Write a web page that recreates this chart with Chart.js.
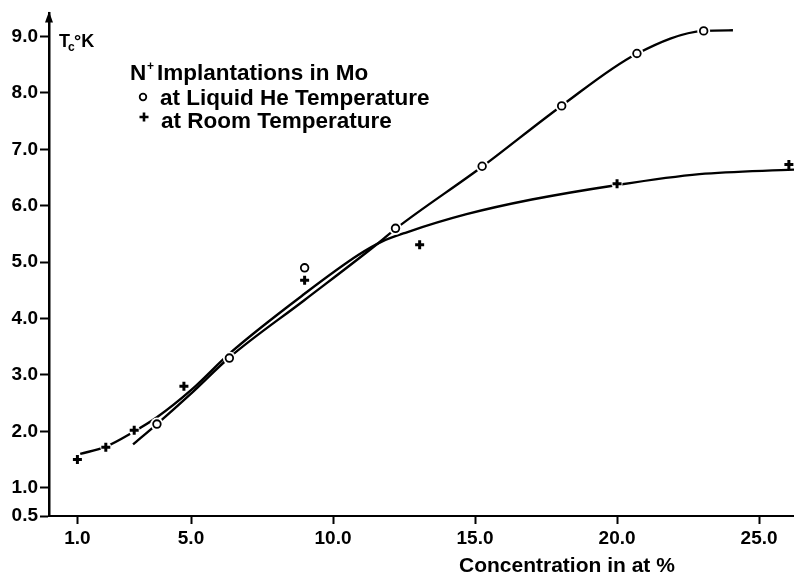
<!DOCTYPE html>
<html>
<head>
<meta charset="utf-8">
<title>Tc of N+ implanted Mo</title>
<script src="https://cdn.jsdelivr.net/npm/chart.js@4.4.1/dist/chart.umd.min.js"></script>
<style>
  html, body { margin: 0; padding: 0; background: #fff; }
  #tcChart { display: block; }
</style>
</head>
<body>
<canvas id="tcChart" width="794" height="574"></canvas>
<script>
'use strict';

// #region ***  Data                                      ***********
// measured points: concentration in at % / Tc in K
const heConc = [3.8, 6.35, 9.0, 12.2, 15.25, 18.05, 20.7, 23.05];
const heTc = [2.13, 3.3, 4.9, 5.6, 6.7, 7.77, 8.7, 9.1];
const roomConc = [1.0, 2.0, 3.0, 4.75, 9.0, 13.05, 20.0, 26.05];
const roomTc = [1.5, 1.72, 2.02, 2.8, 4.68, 5.31, 6.39, 6.73];

// hand drawn curves through the points
const heCurveConc = [2.96, 3.8, 5.0, 6.35, 9.0, 11.6, 12.2, 15.27, 18.04, 20.68, 23.07, 24.08];
const heCurveTc = [1.77, 2.13, 2.67, 3.31, 4.33, 5.34, 5.59, 6.7, 7.77, 8.69, 9.1, 9.11];
const roomCurveConc = [1.1, 2.0, 2.9, 3.8, 5.0, 6.4, 9.0, 10.9, 11.7, 12.6, 14.7, 17.0, 19.9, 22.9, 26.23];
const roomCurveTc = [1.6, 1.73, 1.97, 2.25, 2.73, 3.4, 4.44, 5.13, 5.36, 5.53, 5.85, 6.11, 6.36, 6.56, 6.64];

const xTicks = [1, 5, 10, 15, 20, 25];
const yTicks = [0.5, 1, 2, 3, 4, 5, 6, 7, 8, 9];
// #endregion

const fontFamily = '"Liberation Sans", Arial, sans-serif';

const pointsOf = function (xs, ys) {
  return xs.map((x, i) => ({ x: x, y: ys[i] }));
};

// #region ***  Plugin - axis title, arrow and key        ***********
const annotations = {
  id: 'annotations',
  afterDraw: function (chart) {
    const ctx = chart.ctx;
    const area = chart.chartArea;
    ctx.save();
    ctx.fillStyle = '#000';
    ctx.strokeStyle = '#000';

    // arrow head on the Tc axis
    ctx.beginPath();
    ctx.moveTo(area.left, area.top - 2);
    ctx.lineTo(area.left - 4, area.top + 9);
    ctx.lineTo(area.left + 4, area.top + 9);
    ctx.closePath();
    ctx.fill();

    ctx.textBaseline = 'alphabetic';
    ctx.textAlign = 'left';

    // Tc °K
    ctx.font = `bold 18px ${fontFamily}`;
    ctx.fillText('T', 59, 47);
    ctx.font = `bold 12px ${fontFamily}`;
    ctx.fillText('c', 68, 51);
    ctx.font = `bold 18px ${fontFamily}`;
    ctx.fillText('°K', 74, 47);

    // key
    ctx.font = `bold 22.5px ${fontFamily}`;
    ctx.fillText('N', 130, 80);
    ctx.font = `bold 12px ${fontFamily}`;
    ctx.fillText('+', 147, 70);
    ctx.font = `bold 22.5px ${fontFamily}`;
    ctx.fillText('Implantations in Mo', 157, 80);
    ctx.fillText('at Liquid He Temperature', 160, 105);
    ctx.fillText('at Room Temperature', 161, 128);

    ctx.lineWidth = 1.8;
    ctx.beginPath();
    ctx.arc(143, 97, 3.3, 0, Math.PI * 2);
    ctx.stroke();
    ctx.lineWidth = 2.6;
    ctx.beginPath();
    ctx.moveTo(139.5, 117);
    ctx.lineTo(148.5, 117);
    ctx.moveTo(144, 112.5);
    ctx.lineTo(144, 121.5);
    ctx.stroke();

    // x axis title
    ctx.font = `bold 21px ${fontFamily}`;
    ctx.fillText('Concentration in at %', 459, 572);
    ctx.restore();
  }
};
// #endregion

// #region ***  Chart                                      ***********
const drawChart = function () {
  const markerDefaults = { showLine: false, pointHoverRadius: 0 };
  const curveDefaults = {
    borderColor: '#000',
    borderWidth: 2.4,
    pointRadius: 0,
    pointHoverRadius: 0,
    cubicInterpolationMode: 'monotone',
    fill: false
  };

  const data = {
    datasets: [
      Object.assign({
        label: 'at Liquid He Temperature',
        data: pointsOf(heConc, heTc),
        pointStyle: 'circle',
        pointRadius: 3.8,
        pointBackgroundColor: '#fff',
        pointBorderColor: '#000',
        pointBorderWidth: 1.8,
        order: 0
      }, markerDefaults),
      Object.assign({
        label: 'at Room Temperature',
        data: pointsOf(roomConc, roomTc),
        pointStyle: 'cross',
        pointRadius: 4.5,
        pointBorderColor: '#000',
        pointBorderWidth: 3,
        order: 0
      }, markerDefaults),
      // white gaps where the curves run into a marker
      Object.assign({
        data: pointsOf(heConc, heTc),
        pointRadius: 6.5,
        pointBackgroundColor: '#fff',
        pointBorderWidth: 0,
        order: 1
      }, markerDefaults),
      Object.assign({
        data: pointsOf(roomConc, roomTc),
        pointRadius: [5.5, 5.5, 5.5, 5.5, 5.5, 5.5, 5.5, 0],
        pointBackgroundColor: '#fff',
        pointBorderWidth: 0,
        order: 1
      }, markerDefaults),
      Object.assign({ data: pointsOf(heCurveConc, heCurveTc), order: 2 }, curveDefaults),
      Object.assign({ data: pointsOf(roomCurveConc, roomCurveTc), order: 2 }, curveDefaults)
    ]
  };

  const tickFont = { family: fontFamily, size: 19, weight: 'bold' };

  const config = {
    type: 'line',
    data: data,
    options: {
      responsive: false,
      animation: false,
      events: [],
      layout: { autoPadding: false, padding: { top: 12, right: 0, bottom: 0, left: 0 } },
      plugins: { legend: { display: false }, tooltip: { enabled: false } },
      scales: {
        x: {
          type: 'linear',
          min: 0,
          max: 26.23,
          afterBuildTicks: scale => { scale.ticks = xTicks.map(v => ({ value: v })); },
          afterFit: scale => { scale.height = 58; },
          grid: { drawOnChartArea: false, drawTicks: true, tickLength: 8, tickWidth: 2, color: '#000' },
          border: { display: true, color: '#000', width: 2 },
          ticks: {
            color: '#000',
            font: tickFont,
            padding: 3,
            maxRotation: 0,
            autoSkip: false,
            callback: v => v.toFixed(1)
          }
        },
        y: {
          type: 'linear',
          min: 0.5,
          max: 9.41,
          afterBuildTicks: scale => { scale.ticks = yTicks.map(v => ({ value: v })); },
          afterFit: scale => { scale.width = 49; },
          grid: { drawOnChartArea: false, drawTicks: true, tickLength: 9, tickWidth: 2, color: '#000' },
          border: { display: true, color: '#000', width: 2.5 },
          ticks: {
            color: '#000',
            font: tickFont,
            padding: 2,
            autoSkip: false,
            callback: v => v.toFixed(1)
          }
        }
      }
    },
    plugins: [annotations]
  };

  const ctx = document.getElementById('tcChart').getContext('2d');
  new Chart(ctx, config);
};
// #endregion

// #region ***  Init / DOMContentLoaded                  ***********
const init = function () {
  drawChart();
};

document.addEventListener('DOMContentLoaded', init);
// #endregion
</script>
</body>
</html>
